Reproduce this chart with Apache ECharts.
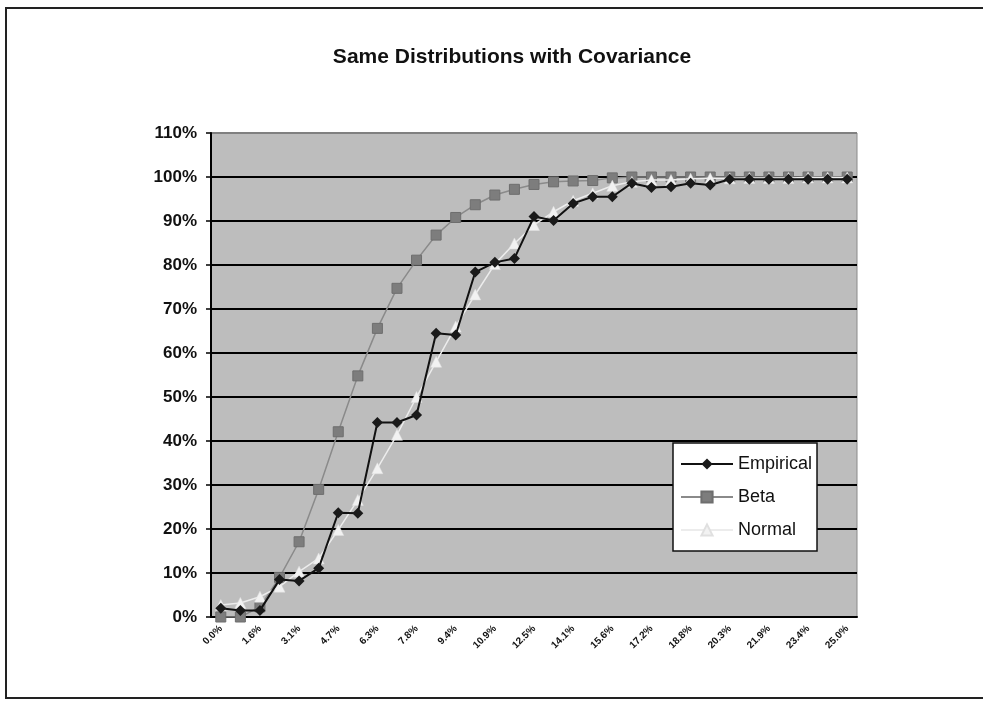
<!DOCTYPE html>
<html>
<head>
<meta charset="utf-8">
<script src="https://cdn.jsdelivr.net/npm/echarts@6/dist/echarts.min.js"></script>
<style>
html,body{margin:0;padding:0;background:#fff;}
#c{width:983px;height:723px;}
</style>
</head>
<body>
<div id="c"></div>
<script>
var categories = ["0.0%","0.8%","1.6%","2.3%","3.1%","3.9%","4.7%","5.5%","6.3%","7.0%","7.8%","8.6%","9.4%","10.2%","10.9%","11.7%","12.5%","13.3%","14.1%","14.8%","15.6%","16.4%","17.2%","18.0%","18.8%","19.5%","20.3%","21.1%","21.9%","22.7%","23.4%","24.2%","25.0%"];
var empirical = [2.0,1.5,1.5,8.5,8.2,11.1,23.7,23.6,44.2,44.2,45.9,64.5,64.1,78.4,80.6,81.5,91.0,90.1,94.0,95.5,95.5,98.6,97.6,97.8,98.6,98.2,99.5,99.5,99.5,99.5,99.5,99.5,99.5];
var beta = [0,0,2.3,9.0,17.1,29.0,42.1,54.8,65.6,74.7,81.1,86.8,90.8,93.7,95.9,97.2,98.3,98.9,99.1,99.2,99.8,100,100,100,100,100,100,100,100,100,100,100,100];
var normal = [2.7,3.2,4.6,6.9,10.3,13.3,19.8,26.6,33.8,41.4,50.0,58.0,66.0,73.3,80.2,84.9,89.1,92.1,94.6,96.3,98.0,98.9,99.3,99.3,99.6,99.7,99.7,99.8,99.8,99.8,99.9,99.9,99.9];
var seriesNames = ["Empirical","Beta","Normal"];
var titleText = "Same Distributions with Covariance";

var chart = echarts.init(document.getElementById('c'), null, {renderer:'canvas'});
var font = "'Liberation Sans', Arial, sans-serif";
var gridColors = [];
for (var i = 0; i < 11; i++) gridColors.push('#000');
gridColors.push('#808080');

chart.setOption({
  animation: false,
  backgroundColor: '#fff',
  title: {
    text: titleText,
    left: 507, top: 42, textAlign: 'center',
    textStyle: {fontFamily: font, fontSize: 21, fontWeight: 'bold', color: '#111'}
  },
  graphic: [{
    type: 'rect', shape: {x: 6, y: 8, width: 990, height: 690},
    style: {fill: 'none', stroke: '#222', lineWidth: 2}, silent: true, z: -1
  }],
  legend: {
    data: seriesNames,
    orient: 'vertical', left: 673, top: 443,
    padding: [12, 5, 12, 7],
    itemWidth: 52, itemHeight: 14, itemGap: 15,
    backgroundColor: '#fff', borderColor: '#111', borderWidth: 1.5,
    textStyle: {fontFamily: font, fontSize: 18, color: '#111'}
  },
  grid: {left: 211, right: 126, top: 133, bottom: 106, show: true,
         backgroundColor: '#bdbdbd', borderColor: '#8a8a8a', borderWidth: 1},
  xAxis: {
    type: 'category', data: categories, boundaryGap: true,
    axisLine: {lineStyle: {color: '#000', width: 2}},
    axisTick: {interval: 0, length: 5, lineStyle: {color: '#000', width: 1.5}},
    axisLabel: {interval: 1, rotate: 45, fontSize: 10, fontWeight: 'bold', fontFamily: font, color: '#111', margin: 10}
  },
  yAxis: {
    type: 'value', min: 0, max: 110, interval: 10,
    axisLine: {show: true, lineStyle: {color: '#000', width: 2}},
    axisTick: {show: true, length: 5, lineStyle: {color: '#000', width: 1.5}},
    axisLabel: {formatter: '{value}%', fontSize: 17, fontWeight: 'bold', fontFamily: font, color: '#111', margin: 14},
    splitLine: {show: true, lineStyle: {color: gridColors, width: 2}}
  },
  series: [
    {name: seriesNames[1], type: 'line', data: beta, symbol: 'rect', symbolSize: 10,
     itemStyle: {color: '#7d7d7d', borderColor: '#6e6e6e', borderWidth: 1},
     lineStyle: {color: '#8a8a8a', width: 1.5}, z: 2},
    {name: seriesNames[2], type: 'line', data: normal, symbol: 'triangle', symbolSize: 11,
     itemStyle: {color: '#f2f2f2', borderColor: '#e0e0e0', borderWidth: 0.5},
     lineStyle: {color: '#ececec', width: 1.5}, z: 3},
    {name: seriesNames[0], type: 'line', data: empirical, symbol: 'diamond', symbolSize: 11,
     itemStyle: {color: '#1a1a1a'},
     lineStyle: {color: '#111', width: 2}, z: 4}
  ]
});
</script>
</body>
</html>
